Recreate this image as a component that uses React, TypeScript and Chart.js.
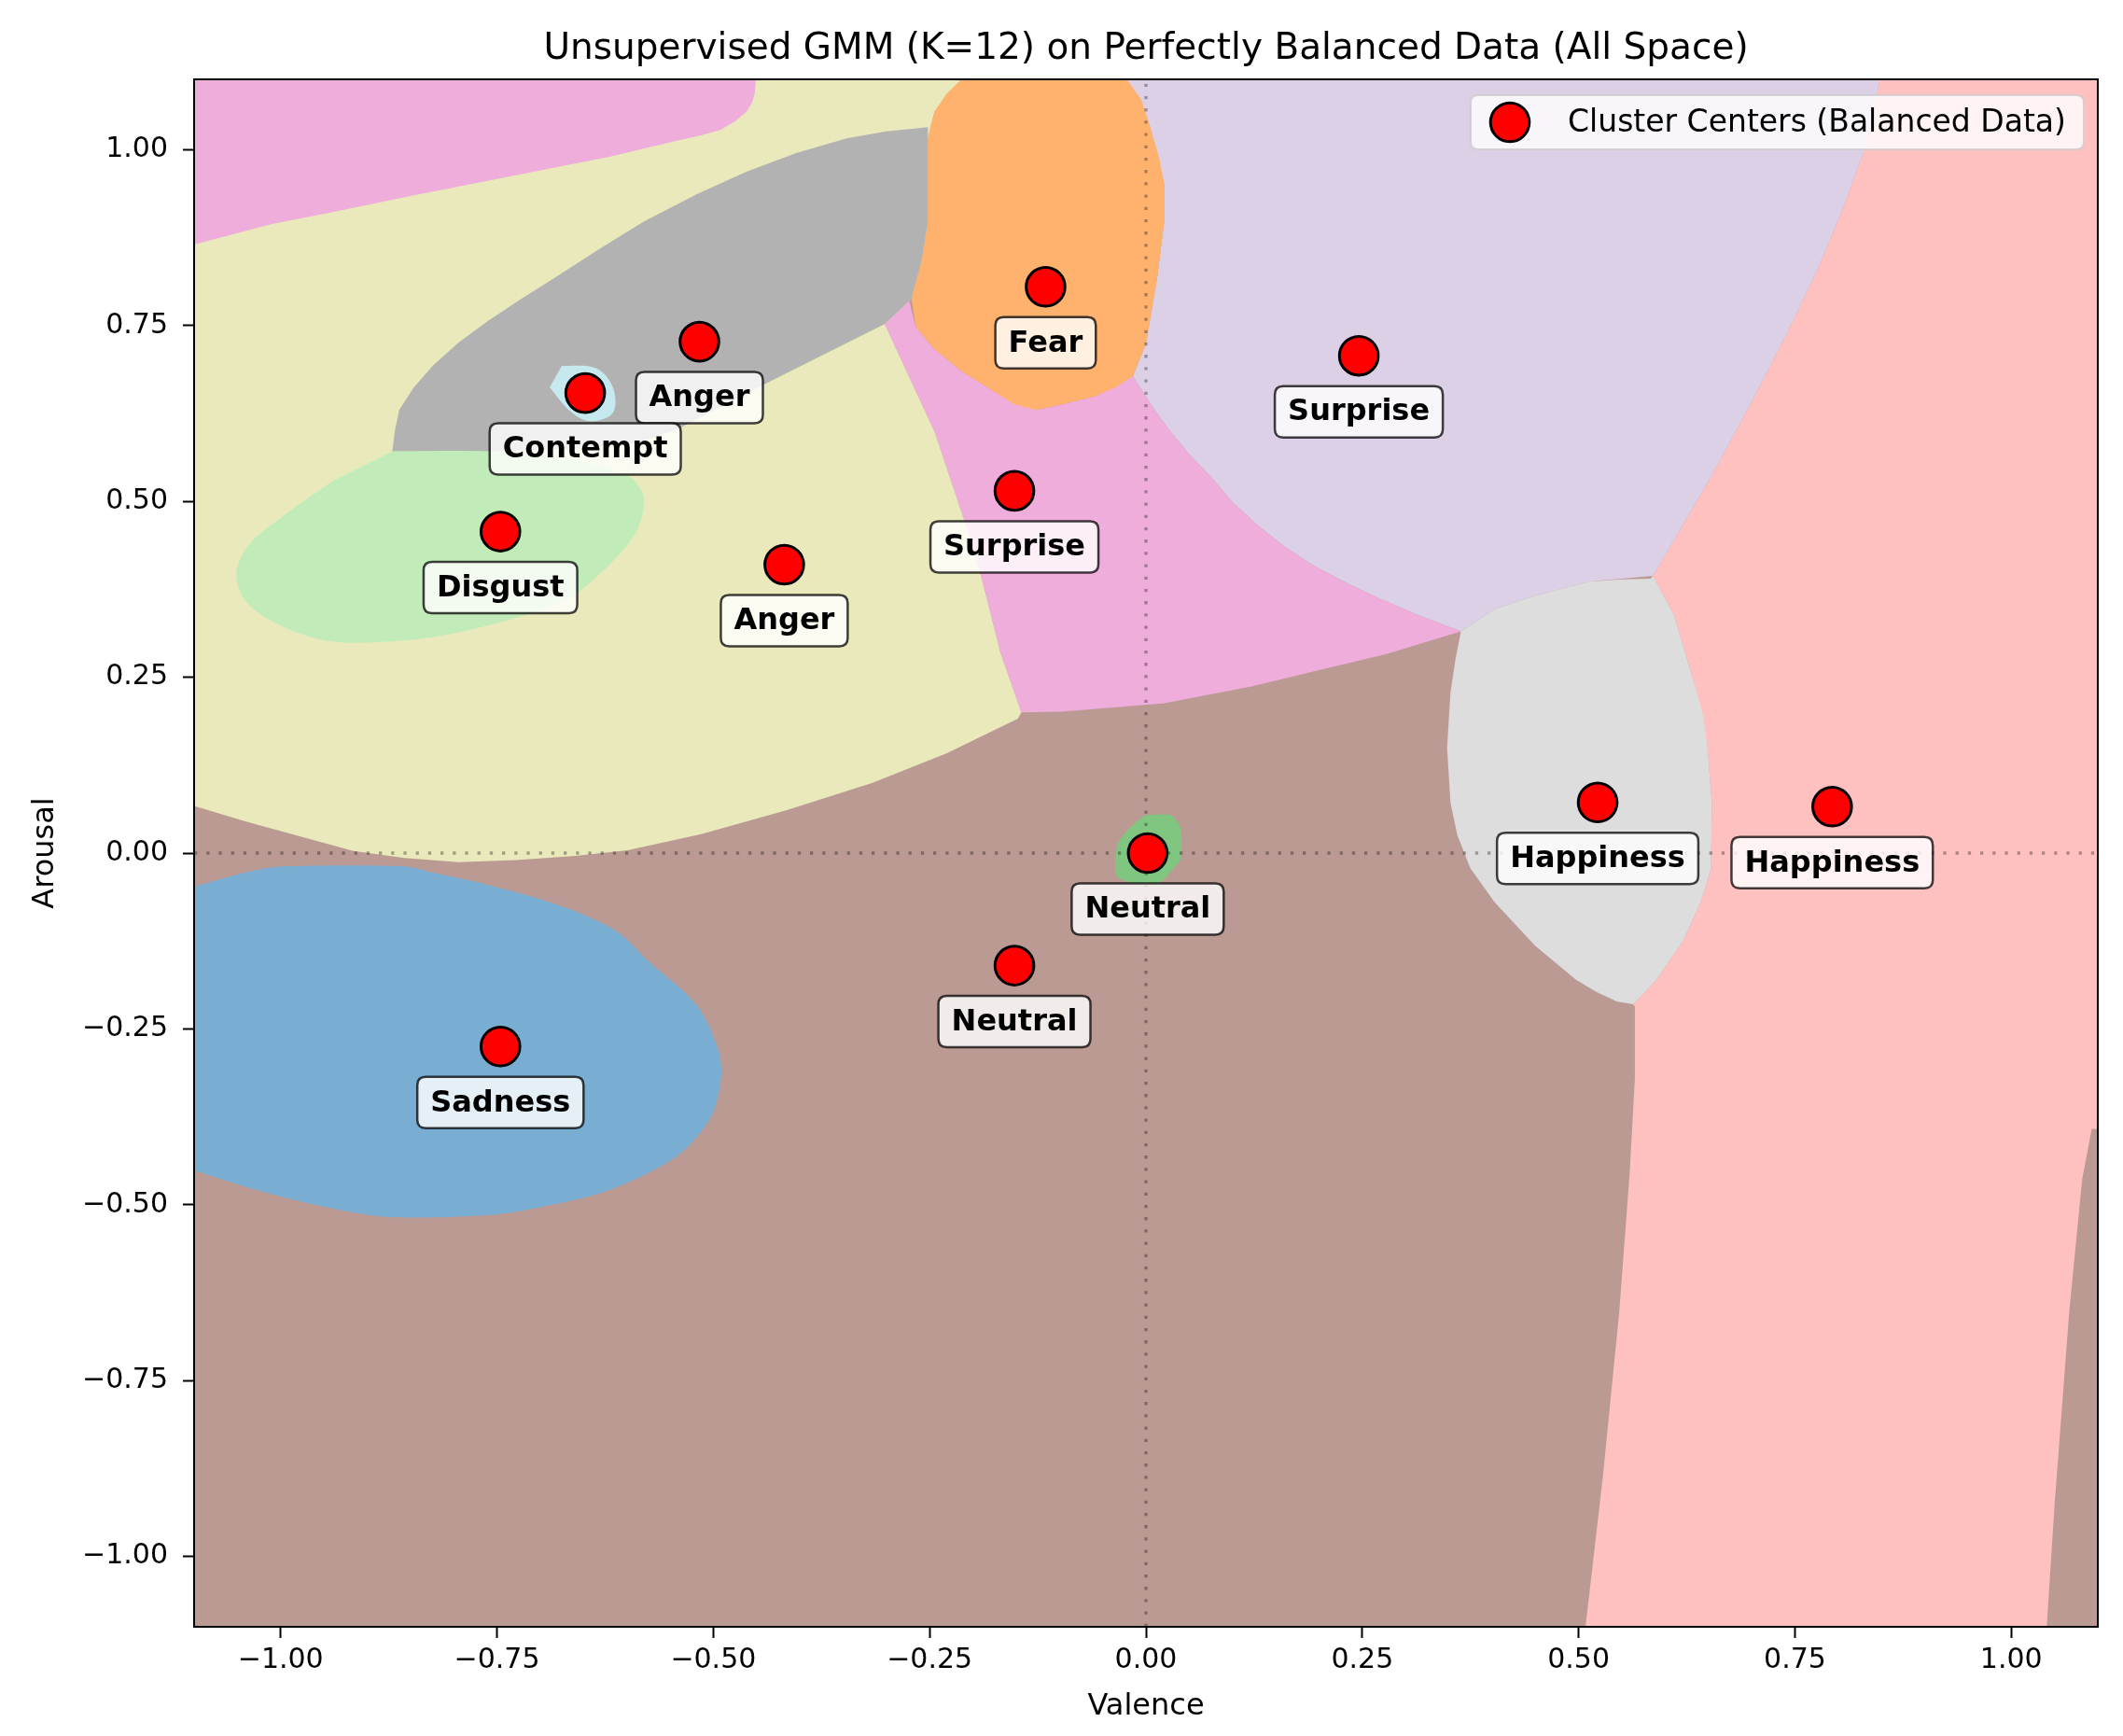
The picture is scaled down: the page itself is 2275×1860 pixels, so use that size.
import React, { useEffect, useRef } from "react";
import { Chart, registerables } from "chart.js";

Chart.register(...registerables);

// ---------- data ----------
const AXIS_MIN = -1.1;
const AXIS_MAX = 1.1;
const xTickValues = [-1, -0.75, -0.5, -0.25, 0, 0.25, 0.5, 0.75, 1];
const yTickValues = [-1, -0.75, -0.5, -0.25, 0, 0.25, 0.5, 0.75, 1];

const centerValence = [-0.116, -0.516, -0.648, -0.746, -0.418, -0.152, 0.246, 0.522, 0.793, 0.002, -0.152, -0.746];
const centerArousal = [0.805, 0.727, 0.654, 0.457, 0.41, 0.515, 0.707, 0.072, 0.066, 0.0, -0.16, -0.275];
const centerLabels = ["Fear", "Anger", "Contempt", "Disgust", "Anger", "Surprise", "Surprise", "Happiness", "Happiness", "Neutral", "Neutral", "Sadness"];

const titleText = "Unsupervised GMM (K=12) on Perfectly Balanced Data (All Space)";
const xTitle = "Valence";
const yTitle = "Arousal";
const legendText = "Cluster Centers (Balanced Data)";
const refLineValence = 0;
const refLineArousal = 0;

type P = [number, number];

// Decision regions (valence, arousal)
const regionNeutralBg: P[] = [[-1.1, -1.1], [1.1, -1.1], [1.1, 1.1], [-1.1, 1.1]];
const regionHappinessRight: P[] = [
  [0.848, 1.1], [1.1, 1.1], [1.1, -0.392], [1.093, -0.392], [1.082, -0.463], [1.067, -0.652], [1.05, -0.927], [1.041, -1.1],
  [0.508, -1.1], [0.528, -0.887], [0.547, -0.652], [0.559, -0.455], [0.565, -0.321], [0.565, -0.218], [0.563, -0.215],
  [0.59, -0.18], [0.621, -0.124], [0.641, -0.07], [0.653, -0.022], [0.654, 0.071], [0.649, 0.15], [0.633, 0.244], [0.61, 0.339], [0.586, 0.394],
  [0.62, 0.465], [0.653, 0.535], [0.685, 0.607], [0.715, 0.677], [0.748, 0.757], [0.778, 0.835], [0.805, 0.915], [0.828, 0.992], [0.84, 1.045],
];
const regionSurpriseRight: P[] = [
  [-0.022, 1.1], [0.848, 1.1], [0.84, 1.045], [0.828, 0.992], [0.805, 0.915], [0.778, 0.835], [0.748, 0.757], [0.715, 0.677],
  [0.685, 0.607], [0.653, 0.535], [0.62, 0.465], [0.586, 0.394],
  [0.513, 0.386], [0.45, 0.366], [0.403, 0.347], [0.364, 0.315], [0.315, 0.338], [0.27, 0.362], [0.23, 0.385], [0.192, 0.41],
  [0.16, 0.436], [0.13, 0.465], [0.1, 0.499], [0.075, 0.535], [0.05, 0.567], [0.029, 0.598], [0.01, 0.63], [-0.007, 0.662],
  [-0.015, 0.678], [0.0, 0.724], [0.013, 0.818], [0.021, 0.898], [0.021, 0.952], [0.005, 1.032],
];
const regionHappinessLeft: P[] = [
  [0.364, 0.315], [0.403, 0.347], [0.45, 0.366], [0.513, 0.386], [0.55, 0.389], [0.583, 0.39], [0.586, 0.394], [0.61, 0.339],
  [0.633, 0.244], [0.644, 0.195], [0.649, 0.15], [0.654, 0.071], [0.653, -0.022], [0.641, -0.07], [0.621, -0.124],
  [0.59, -0.18], [0.563, -0.215], [0.544, -0.211], [0.52, -0.197], [0.497, -0.18], [0.45, -0.132], [0.403, -0.07],
  [0.375, -0.022], [0.36, 0.025], [0.352, 0.071], [0.348, 0.15], [0.352, 0.229], [0.358, 0.278],
];
const regionSurpriseLeft: P[] = [
  [-0.302, 0.752], [-0.244, 0.598], [-0.197, 0.425], [-0.168, 0.284], [-0.144, 0.2], [-0.097, 0.201], [0.021, 0.213],
  [0.122, 0.237], [0.2, 0.26], [0.278, 0.283], [0.364, 0.315], [0.315, 0.338], [0.27, 0.362], [0.23, 0.385], [0.192, 0.41],
  [0.16, 0.436], [0.13, 0.465], [0.1, 0.499], [0.075, 0.535], [0.05, 0.567], [0.029, 0.598], [0.01, 0.63], [-0.007, 0.662],
  [-0.015, 0.678], [-0.058, 0.65], [-0.097, 0.638], [-0.127, 0.63], [-0.173, 0.654], [-0.213, 0.685], [-0.244, 0.716],
  [-0.266, 0.748], [-0.275, 0.792],
];
const regionAngerLow: P[] = [
  [-1.1, 0.067], [-1.1, 1.1], [-0.213, 1.1], [-0.244, 1.055], [-0.252, 1.016], [-0.252, 0.898], [-0.259, 0.843], [-0.271, 0.788],
  [-0.302, 0.752], [-0.244, 0.598], [-0.197, 0.425], [-0.168, 0.284], [-0.144, 0.2], [-0.148, 0.191], [-0.23, 0.142], [-0.316, 0.1],
  [-0.415, 0.061], [-0.514, 0.027], [-0.599, 0.004], [-0.659, -0.004], [-0.728, -0.01], [-0.794, -0.013], [-0.857, -0.007],
  [-0.916, 0.003], [-0.975, 0.023], [-1.041, 0.045],
];
const regionTopLeft: P[] = [
  [-1.1, 1.1], [-0.451, 1.1], [-0.452, 1.08], [-0.455, 1.067], [-0.461, 1.055], [-0.475, 1.04], [-0.492, 1.028], [-0.515, 1.02],
  [-0.541, 1.013], [-0.62, 0.99], [-0.698, 0.971], [-0.776, 0.952], [-0.854, 0.933], [-0.933, 0.913], [-1.011, 0.894], [-1.1, 0.865],
];
const regionAngerHigh: P[] = [
  [-0.252, 1.032], [-0.252, 0.898], [-0.259, 0.843], [-0.271, 0.788], [-0.302, 0.752], [-0.385, 0.701], [-0.448, 0.662],
  [-0.542, 0.602], [-0.589, 0.583], [-0.66, 0.575], [-0.761, 0.571], [-0.871, 0.571], [-0.868, 0.6], [-0.863, 0.63],
  [-0.846, 0.662], [-0.824, 0.693], [-0.795, 0.725], [-0.761, 0.756], [-0.722, 0.788], [-0.683, 0.818], [-0.63, 0.86],
  [-0.58, 0.898], [-0.52, 0.936], [-0.463, 0.968], [-0.405, 0.995], [-0.346, 1.016], [-0.3, 1.026],
];
const regionFear: P[] = [
  [-0.213, 1.1], [-0.022, 1.1], [-0.005, 1.07], [0.005, 1.032], [0.015, 0.99], [0.021, 0.952], [0.021, 0.898], [0.013, 0.818],
  [0.0, 0.724], [-0.015, 0.678], [-0.035, 0.662], [-0.058, 0.65], [-0.097, 0.638], [-0.127, 0.63], [-0.152, 0.638],
  [-0.173, 0.654], [-0.213, 0.685], [-0.244, 0.716], [-0.266, 0.748], [-0.271, 0.788], [-0.259, 0.843], [-0.252, 0.898],
  [-0.252, 1.016], [-0.248, 1.038], [-0.244, 1.055], [-0.23, 1.08],
];
const regionDisgust: P[] = [
  [-0.871, 0.571], [-0.761, 0.571], [-0.659, 0.559], [-0.597, 0.535], [-0.58, 0.504], [-0.589, 0.457], [-0.62, 0.41],
  [-0.667, 0.362], [-0.738, 0.331], [-0.824, 0.307], [-0.918, 0.299], [-0.965, 0.307], [-1.012, 0.331], [-1.043, 0.362],
  [-1.051, 0.401], [-1.035, 0.441], [-0.996, 0.48], [-0.941, 0.528],
];
const regionSadness: P[] = [
  [-1.1, -0.048], [-1.035, -0.026], [-0.998, -0.019], [-0.857, -0.019], [-0.824, -0.028], [-0.758, -0.046], [-0.679, -0.074],
  [-0.613, -0.11], [-0.573, -0.156], [-0.518, -0.218], [-0.494, -0.281], [-0.491, -0.32], [-0.503, -0.376], [-0.542, -0.431],
  [-0.62, -0.479], [-0.698, -0.503], [-0.761, -0.515], [-0.879, -0.517], [-0.949, -0.503], [-1.028, -0.479], [-1.1, -0.451],
];
const regionContempt: P[] = [
  [-0.675, 0.693], [-0.635, 0.689], [-0.616, 0.662], [-0.616, 0.626], [-0.643, 0.614], [-0.667, 0.63], [-0.689, 0.662],
];
const regionNeutralCore: P[] = [
  [-0.001, 0.054], [0.028, 0.054], [0.04, 0.036], [0.04, -0.008], [0.031, -0.023], [0.017, -0.041], [-0.015, -0.043],
  [-0.034, -0.032], [-0.033, 0.012], [-0.019, 0.036],
];

// ---------- styles ----------
const regionLayers: { pts: P[]; color: string; smooth: number }[] = [
  { pts: regionNeutralBg, color: "rgb(186,154,147)", smooth: 0 },
  { pts: regionHappinessRight, color: "rgb(255,193,192)", smooth: 0 },
  { pts: regionSurpriseRight, color: "rgb(220,208,230)", smooth: 0 },
  { pts: regionHappinessLeft, color: "rgb(221,221,221)", smooth: 0 },
  { pts: regionSurpriseLeft, color: "rgb(238,173,218)", smooth: 0 },
  { pts: regionAngerLow, color: "rgb(233,233,187)", smooth: 0 },
  { pts: regionTopLeft, color: "rgb(238,173,218)", smooth: 0 },
  { pts: regionAngerHigh, color: "rgb(178,178,178)", smooth: 0 },
  { pts: regionFear, color: "rgb(255,178,110)", smooth: 0 },
  { pts: regionDisgust, color: "rgb(193,236,185)", smooth: 0.3 },
  { pts: regionSadness, color: "rgb(121,173,210)", smooth: 0.3 },
  { pts: regionContempt, color: "rgb(197,233,239)", smooth: 0.35 },
  { pts: regionNeutralCore, color: "rgb(128,198,128)", smooth: 0.25 },
];

const FONT = '"DejaVu Sans", "Liberation Sans", sans-serif';
const W = 2275;
const H = 1860;
const MARKER_R = 20.8;

const fmtTick = (v: number) => {
  const s = Math.abs(v).toFixed(2);
  return v < 0 ? "\u2212" + s : s;
};

function roundRect(ctx: CanvasRenderingContext2D, x: number, y: number, w: number, h: number, r: number) {
  ctx.beginPath();
  ctx.moveTo(x + r, y);
  ctx.lineTo(x + w - r, y);
  ctx.quadraticCurveTo(x + w, y, x + w, y + r);
  ctx.lineTo(x + w, y + h - r);
  ctx.quadraticCurveTo(x + w, y + h, x + w - r, y + h);
  ctx.lineTo(x + r, y + h);
  ctx.quadraticCurveTo(x, y + h, x, y + h - r);
  ctx.lineTo(x, y + r);
  ctx.quadraticCurveTo(x, y, x + r, y);
  ctx.closePath();
}

const overlayPlugin = {
  id: "overlay",
  afterDatasetsDraw(chart: any) {
    const { ctx, chartArea, scales } = chart;
    const xs = scales.x;
    const ys = scales.y;
    ctx.save();
    // frame (all four spines)
    ctx.strokeStyle = "#000";
    ctx.lineWidth = 2;
    ctx.strokeRect(chartArea.left, chartArea.top, chartArea.right - chartArea.left, chartArea.bottom - chartArea.top);

    // annotation labels
    ctx.font = `bold 32px ${FONT}`;
    ctx.textAlign = "center";
    ctx.textBaseline = "middle";
    for (let i = 0; i < centerLabels.length; i++) {
      const px = xs.getPixelForValue(centerValence[i]);
      const py = ys.getPixelForValue(centerArousal[i]);
      const tw = ctx.measureText(centerLabels[i]).width;
      const bw = tw + 28;
      const bh = 55;
      const cy = py + 60;
      roundRect(ctx, px - bw / 2, cy - bh / 2, bw, bh, 9);
      ctx.fillStyle = "rgba(255,255,255,0.8)";
      ctx.fill();
      ctx.strokeStyle = "rgba(0,0,0,0.75)";
      ctx.lineWidth = 2.5;
      ctx.stroke();
      ctx.fillStyle = "#000";
      ctx.fillText(centerLabels[i], px, cy + 1);
    }

    // legend
    const lx1 = chartArea.right - 15;
    const lw = 657;
    const lx0 = lx1 - lw;
    const ly0 = chartArea.top + 17;
    const lh = 58;
    roundRect(ctx, lx0, ly0, lw, lh, 8);
    ctx.fillStyle = "rgba(255,255,255,0.8)";
    ctx.fill();
    ctx.strokeStyle = "rgba(204,204,204,0.8)";
    ctx.lineWidth = 2;
    ctx.stroke();
    ctx.beginPath();
    ctx.arc(lx0 + 42, ly0 + lh / 2, MARKER_R, 0, Math.PI * 2);
    ctx.fillStyle = "red";
    ctx.fill();
    ctx.strokeStyle = "#000";
    ctx.lineWidth = 3;
    ctx.stroke();
    ctx.fillStyle = "#000";
    ctx.font = `33px ${FONT}`;
    ctx.textAlign = "left";
    ctx.textBaseline = "middle";
    ctx.fillText(legendText, lx0 + 104, ly0 + lh / 2 + 1);

    // title
    ctx.font = `39px ${FONT}`;
    ctx.textAlign = "center";
    ctx.textBaseline = "alphabetic";
    ctx.fillText(titleText, (chartArea.left + chartArea.right) / 2, 63);
    ctx.restore();
  },
};

export default function App() {
  const ref = useRef<HTMLCanvasElement | null>(null);

  useEffect(() => {
    if (!ref.current) return;
    const regionDatasets: any[] = regionLayers.map((layer, i) => ({
      type: "line",
      data: layer.pts.map(([x, y]) => ({ x, y })),
      backgroundColor: layer.color,
      borderColor: layer.color,
      borderWidth: 0,
      pointRadius: 0,
      pointHoverRadius: 0,
      tension: layer.smooth,
      fill: "shape",
      order: 100 - i,
    }));
    const refLines: any[] = [
      {
        type: "line",
        data: [{ x: AXIS_MIN, y: refLineArousal }, { x: AXIS_MAX, y: refLineArousal }],
        borderColor: "rgba(0,0,0,0.32)",
        borderWidth: 3.3,
        borderDash: [3.3, 9.9],
        pointRadius: 0,
        fill: false,
        order: 2,
      },
      {
        type: "line",
        data: [{ x: refLineValence, y: AXIS_MIN }, { x: refLineValence, y: AXIS_MAX }],
        borderColor: "rgba(0,0,0,0.32)",
        borderWidth: 3.3,
        borderDash: [3.3, 9.9],
        pointRadius: 0,
        fill: false,
        order: 2,
      },
    ];
    const centers = {
      type: "scatter",
      label: legendText,
      data: centerValence.map((v, i) => ({ x: v, y: centerArousal[i] })),
      backgroundColor: "#ff0000",
      borderColor: "#000000",
      borderWidth: 3,
      pointRadius: MARKER_R,
      pointHoverRadius: MARKER_R,
      order: 0,
    };

    const tickFont = { family: FONT, size: 30 };
    const chart = new Chart(ref.current, {
      type: "scatter",
      data: { datasets: [centers, ...refLines, ...regionDatasets] as any },
      options: {
        animation: false,
        responsive: false,
        devicePixelRatio: 1,
        events: [],
        layout: { padding: { top: 85, right: 27, bottom: 0, left: 0 } },
        plugins: {
          legend: { display: false },
          tooltip: { enabled: false },
          title: { display: false },
        },
        scales: {
          x: {
            type: "linear",
            min: AXIS_MIN,
            max: AXIS_MAX,
            afterBuildTicks: (s: any) => {
              s.ticks = xTickValues.map((v) => ({ value: v }));
            },
            afterFit: (s: any) => {
              s.height = 117;
            },
            ticks: {
              callback: (v: any) => fmtTick(Number(v)),
              font: tickFont,
              color: "#000",
              padding: 6,
              maxRotation: 0,
              autoSkip: false,
            },
            grid: { display: true, drawOnChartArea: false, drawTicks: true, tickLength: 12, tickWidth: 2, tickColor: "#000" },
            border: { display: false },
            title: { display: true, text: xTitle, font: { family: FONT, size: 32 }, color: "#000", padding: { top: 0, bottom: 12 } },
          },
          y: {
            type: "linear",
            min: AXIS_MIN,
            max: AXIS_MAX,
            afterBuildTicks: (s: any) => {
              s.ticks = yTickValues.map((v) => ({ value: v }));
            },
            afterFit: (s: any) => {
              s.width = 208;
            },
            ticks: {
              callback: (v: any) => fmtTick(Number(v)),
              font: tickFont,
              color: "#000",
              padding: 16,
              autoSkip: false,
            },
            grid: { display: true, drawOnChartArea: false, drawTicks: true, tickLength: 12, tickWidth: 2, tickColor: "#000" },
            border: { display: false },
            title: { display: true, text: yTitle, font: { family: FONT, size: 32 }, color: "#000", padding: { top: 29, bottom: 0 } },
          },
        },
      } as any,
      plugins: [overlayPlugin],
    });
    return () => chart.destroy();
  }, []);

  return (
    <div style={{ position: "absolute", left: 0, top: 0, width: W, height: H, background: "#fff" }}>
      <canvas ref={ref} width={W} height={H} style={{ width: W, height: H, display: "block" }} />
    </div>
  );
}
